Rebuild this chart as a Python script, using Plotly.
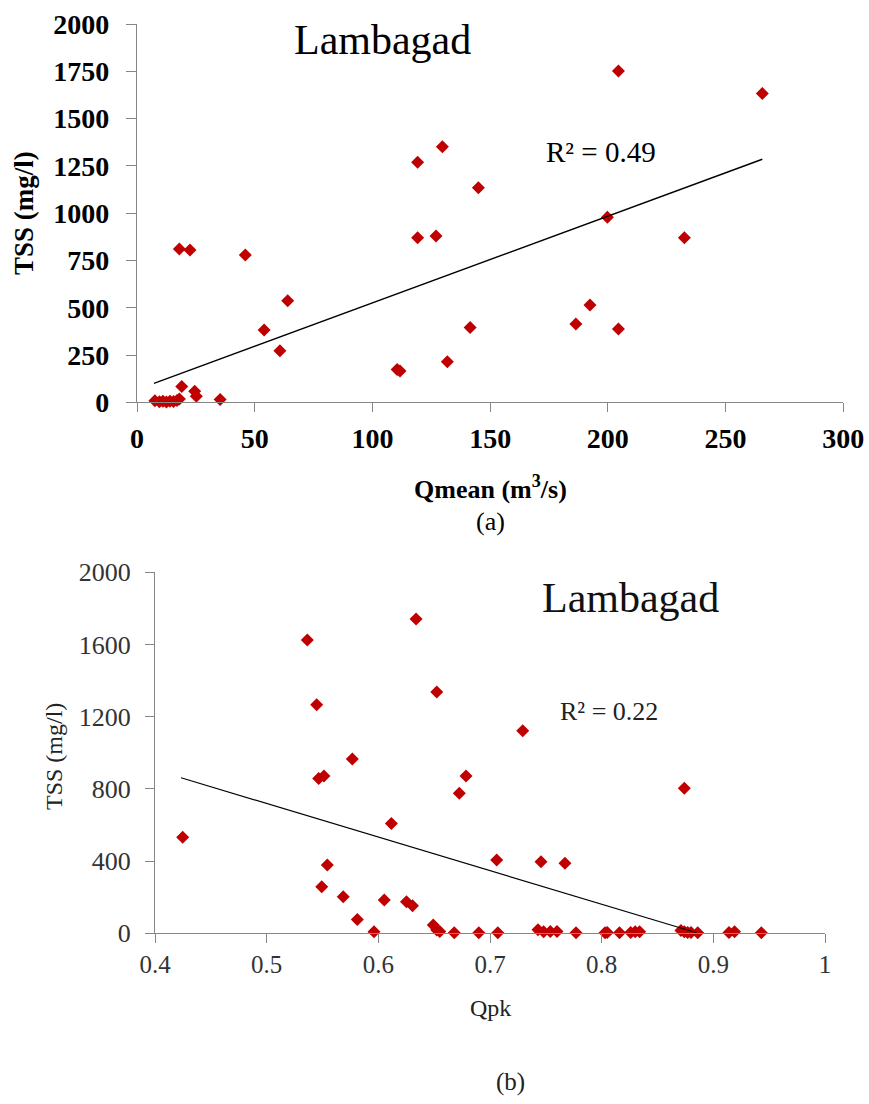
import plotly.graph_objects as go

W, H = 869, 1104

# ---------------- data (a) ----------------
qmean = [7.6, 9.5, 11, 12.5, 14, 15.5, 17, 18, 19, 24.5, 25.2, 35.3,
         18, 22.5, 46, 54, 60.7, 64, 110.5, 111.7, 119.2, 119.2, 127,
         129.7, 131.8, 141.5, 145, 186.4, 192.4, 199.8, 204.5, 204.5, 232.5, 265.6]
tss_a = [8, 3, 5, 2, 6, 4, 10, 18, 83, 58, 32, 15,
         810, 805, 779, 382, 272, 537, 174, 165, 1269, 870, 879,
         1351, 215, 396, 1134, 414, 514, 978, 1751, 387, 870, 1633]
trend_a_x = [7.2, 265.6]
trend_a_y = [100, 1285]
xticks_a = [0, 50, 100, 150, 200, 250, 300]
yticks_a = [0, 250, 500, 750, 1000, 1250, 1500, 1750, 2000]

# ---------------- data (b) ----------------
qpk = [0.4248, 0.5364, 0.5448, 0.5466, 0.5513, 0.5767, 0.6117, 0.6338, 0.6523,
       0.5543, 0.5493, 0.5686, 0.5812, 0.5961, 0.6053, 0.6252, 0.6306, 0.6492,
       0.6523, 0.7293, 0.6785, 0.6725, 0.8740, 0.7060, 0.7457, 0.7671,
       0.655, 0.668, 0.690, 0.707, 0.743, 0.748, 0.754, 0.760, 0.777, 0.803,
       0.805, 0.816, 0.826, 0.830, 0.834, 0.871, 0.874, 0.877, 0.880, 0.886,
       0.914, 0.919, 0.943]
tss_b = [532, 1625, 1266, 857, 872, 966, 609, 1741, 1337,
         378, 258, 203, 77, 9, 184, 175, 153, 46,
         18, 1122, 871, 776, 803, 406, 397, 388,
         10, 3, 3, 3, 20, 8, 10, 10, 3, 3,
         5, 3, 5, 8, 8, 15, 8, 5, 5, 3,
         5, 8, 3]
trend_b_x = [0.4233, 0.885]
trend_b_y = [862, 3]
xticks_b = [0.4, 0.5, 0.6, 0.7, 0.8, 0.9, 1.0]
xticklabels_b = ["0.4", "0.5", "0.6", "0.7", "0.8", "0.9", "1"]
yticks_b = [0, 400, 800, 1200, 1600, 2000]

RED = "#C00000"
AX = "#868686"
FONT = "'Liberation Serif', Tinos, 'Times New Roman', Times, 'DejaVu Serif', serif"

def px(x):
    return x / W

def py(y):
    return 1 - y / H

fig = go.Figure()
fig.add_trace(go.Scatter(x=qmean, y=tss_a, mode="markers", xaxis="x", yaxis="y",
                         marker=dict(symbol="diamond", size=10, color=RED), cliponaxis=False))
fig.add_trace(go.Scatter(x=trend_a_x, y=trend_a_y, mode="lines", xaxis="x", yaxis="y",
                         line=dict(color="black", width=1.4)))
fig.add_trace(go.Scatter(x=qpk, y=tss_b, mode="markers", xaxis="x2", yaxis="y2",
                         marker=dict(symbol="diamond", size=10, color=RED), cliponaxis=False))
fig.add_trace(go.Scatter(x=trend_b_x, y=trend_b_y, mode="lines", xaxis="x2", yaxis="y2",
                         line=dict(color="black", width=1.2)))

axcommon = dict(showgrid=False, zeroline=False, showline=True, linecolor=AX, linewidth=1.3,
                ticks="outside", tickcolor=AX, tickwidth=1.3, fixedrange=True, automargin=False)

fig.update_layout(
    width=W, height=H, autosize=False,
    margin=dict(l=0, r=0, t=0, b=0, pad=0, autoexpand=False),
    paper_bgcolor="white", plot_bgcolor="white", showlegend=False,
    xaxis=dict(domain=[px(137), px(843.3)], range=[0, 300], tickvals=xticks_a, ticklen=9,
               anchor="y", ticklabelstandoff=2,
               tickfont=dict(family=FONT, size=28, color="black", weight="bold"), **axcommon),
    yaxis=dict(domain=[py(402.3), py(24)], range=[0, 2000], tickvals=yticks_a, ticklen=10,
               anchor="x", ticklabelstandoff=11,
               tickfont=dict(family=FONT, size=28, color="black", weight="bold"), **axcommon),
    xaxis2=dict(domain=[px(155), px(825)], range=[0.4, 1.0], tickvals=xticks_b,
                ticktext=xticklabels_b, ticklen=9, anchor="y2",
                tickfont=dict(family=FONT, size=25, color="#333333"), **axcommon),
    yaxis2=dict(domain=[py(933.3), py(572.3)], range=[0, 2000], tickvals=yticks_b, ticklen=9,
                anchor="x2", ticklabelstandoff=9,
                tickfont=dict(family=FONT, size=26, color="#333333"), **axcommon),
)

def ann(text, x, y, size, color="black", angle=0, weight="normal"):
    fig.add_annotation(text=text, x=px(x), y=py(y), xref="paper", yref="paper",
                       showarrow=False, textangle=angle, xanchor="center", yanchor="middle",
                       font=dict(family=FONT, size=size, color=color, weight=weight))

ann("Lambagad", 382, 40, 42)
ann("R² = 0.49", 601, 152, 29)
ann("TSS (mg/l)", 24, 213, 27, angle=-90, weight="bold")
ann("Qmean (m<sup>3</sup>/s)", 490, 487, 26, weight="bold")
ann("(a)", 490, 521, 26)

ann("Lambagad", 630, 598, 42, color="#111111")
ann("R² = 0.22", 609, 711, 26, color="#222222")
ann("TSS (mg/l)", 54, 757, 24, color="#222222", angle=-90)
ann("Qpk", 490, 1008, 24, color="#222222")
ann("(b)", 510, 1082, 25, color="#222222")

fig.write_html("out.html")
